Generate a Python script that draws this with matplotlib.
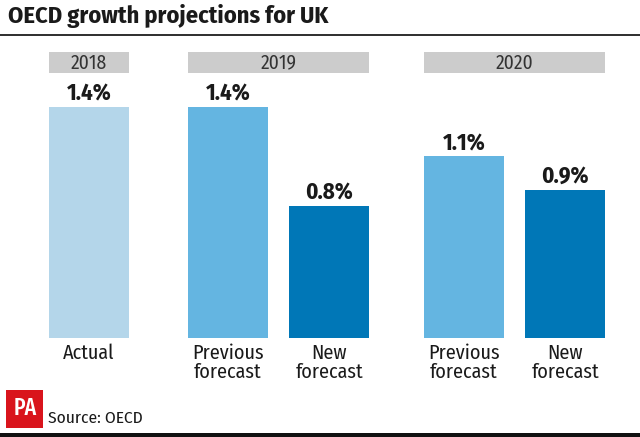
import matplotlib
matplotlib.use("Agg")
import matplotlib.pyplot as plt
from matplotlib.patches import Rectangle

# ---- data ----
years = ["2018", "2019", "2020"]
categories = ["Actual", "Previous\nforecast", "New\nforecast", "Previous\nforecast", "New\nforecast"]
category_year = ["2018", "2019", "2019", "2020", "2020"]
values = [1.4, 1.4, 0.8, 1.1, 0.9]
value_labels = ["1.4%", "1.4%", "0.8%", "1.1%", "0.9%"]
title = "OECD growth projections for UK"
source = "Source: OECD"

# ---- style / layout ----
FONT = ["Fira Sans Condensed", "DejaVu Sans"]
FONT_XC = ["Fira Sans Extra Condensed", "Fira Sans Condensed", "DejaVu Sans"]

colors = ["#b4d6ea", "#64b5e1", "#0077b7", "#64b5e1", "#0077b7"]
W, H = 640, 437
xpos = [89, 228, 329, 464, 565]
bar_w = 80
y0_px, scale = 338, 165.0  # baseline pixel and px per unit

fig = plt.figure(figsize=(W / 100, H / 100), dpi=100)
fig.patch.set_facecolor("white")

def fx(px):
    return px / W

def fy(py):
    return 1 - py / H

top_px = 40
ax = fig.add_axes([0, fy(y0_px), 1, (y0_px - top_px) / H])
ax.set_xlim(0, W)
ax.set_ylim(0, (y0_px - top_px) / scale)
ax.axis("off")

bars = ax.bar(xpos, values, width=bar_w, color=colors)
for b, lab in zip(bars, value_labels):
    ax.annotate(lab, (b.get_x() + b.get_width() / 2, b.get_height()),
                xytext=(0, 4.5), textcoords="offset points", ha="center", va="baseline",
                fontsize=16.5, fontweight="bold", color="#1a1a1a", family=FONT)

for x, c in zip(xpos, categories):
    ax.annotate(c, (x, 0), xytext=(0, -4), textcoords="offset points",
                ha="center", va="top", fontsize=14.5, color="#1a1a1a",
                family=FONT, linespacing=0.95)

# year header boxes
for yr in years:
    xs = [x for x, cy in zip(xpos, category_year) if cy == yr]
    left = min(xs) - bar_w / 2
    right = max(xs) + bar_w / 2
    fig.add_artist(Rectangle((fx(left), fy(73)), fx(right - left), 21 / H,
                             transform=fig.transFigure, color="#cccccc", lw=0))
    fig.text(fx((left + right) / 2), fy(63), yr, ha="center", va="center",
             fontsize=14, color="#333333", family=FONT)

# title and rule
fig.text(fx(8), fy(16), title, ha="left", va="center", fontsize=17.5,
         fontweight="bold", color="#1a1a1a", family=FONT)
fig.add_artist(Rectangle((0, fy(36)), 1, 2 / H, transform=fig.transFigure,
                         color="#333333", lw=0))

# footer
fig.add_artist(Rectangle((fx(6), fy(428)), fx(37), 38 / H, transform=fig.transFigure,
                         color="#d9141c", lw=0))
fig.text(fx(25), fy(408), "PA", ha="center", va="center", fontsize=17,
         fontweight="medium", color="white", family=FONT_XC)
fig.text(fx(48), fy(418), source, ha="left", va="center", fontsize=12.5,
         color="#1a1a1a", family=FONT)
fig.add_artist(Rectangle((0, 0), 1, 4 / H, transform=fig.transFigure,
                         color="#111111", lw=0))

fig.savefig("out.png", dpi=100)
